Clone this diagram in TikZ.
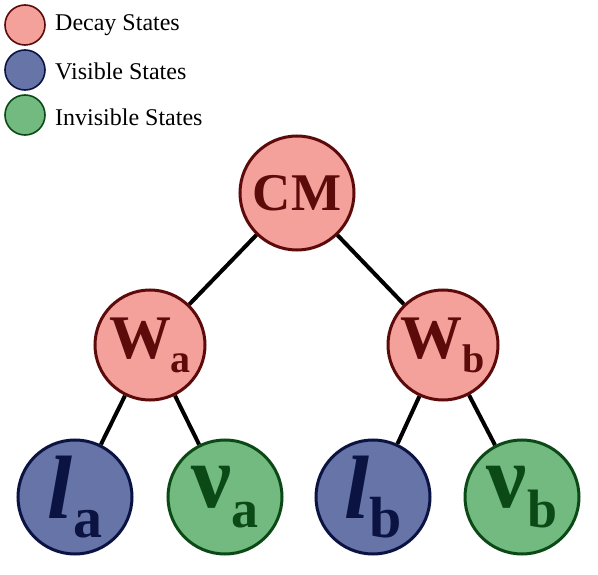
\documentclass[tikz,border=0pt]{standalone}
\usepackage{fontspec}
\setmainfont{Liberation Serif}
\definecolor{decayfill}{HTML}{F4A19B}
\definecolor{decayline}{HTML}{5C0A0A}
\definecolor{visfill}{HTML}{6674A8}
\definecolor{visline}{HTML}{0B1342}
\definecolor{invfill}{HTML}{72BA80}
\definecolor{invline}{HTML}{0B4A17}
\begin{document}
\begin{tikzpicture}[x=1pt,y=-1pt,
  state/.style={circle, line width=3pt, inner sep=0pt, minimum size=112pt},
  decay/.style={state, draw=decayline, fill=decayfill, text=decayline},
  visible/.style={state, draw=visline, fill=visfill, text=visline},
  invisible/.style={state, draw=invline, fill=invfill, text=invline},
  legcirc/.style={circle, line width=1.6pt, inner sep=0pt, minimum size=40pt},
  legtext/.style={anchor=west, inner sep=0pt, font=\fontsize{24}{24}\selectfont},
  link/.style={line width=4pt, black}]
\useasboundingbox (0,0) rectangle (598,575);
% legend
\node[legcirc, draw=decayline, fill=decayfill] (l1) at (25,25) {};
\node[legcirc, draw=visline, fill=visfill] (l2) at (25,70) {};
\node[legcirc, draw=invline, fill=invfill] (l3) at (25,115) {};
\node[legtext] (t1) at (55,25) {Decay States};
\node[legtext] (t2) at (55,71) {Visible States};
\node[legtext] (t3) at (55,117) {Invisible States};
% tree
\node[decay, minimum size=114pt] (cm) at (297,193) {\fontsize{53}{53}\selectfont\bfseries CM};
\node[decay, minimum size=110pt] (wa) at (150,345) {\bfseries\fontsize{62}{62}\selectfont W\raisebox{-14pt}{\fontsize{40}{40}\selectfont a}};
\node[decay, minimum size=110pt] (wb) at (443,345) {\bfseries\fontsize{62}{62}\selectfont W\raisebox{-14pt}{\fontsize{40}{40}\selectfont b}};
\node[visible, minimum size=114pt] (la) at (75,497) {\bfseries\fontsize{90}{90}\selectfont\itshape l\upshape\raisebox{-19pt}{\fontsize{58}{58}\selectfont a}};
\node[invisible, minimum size=114pt] (na) at (225,497) {\bfseries\fontsize{90}{90}\selectfont ν\raisebox{-20pt}{\fontsize{54}{54}\selectfont a}};
\node[visible, minimum size=114pt] (lb) at (373,497) {\bfseries\fontsize{90}{90}\selectfont\itshape l\upshape\raisebox{-19pt}{\fontsize{58}{58}\selectfont b}};
\node[invisible, minimum size=114pt] (nb) at (522,497) {\bfseries\fontsize{90}{90}\selectfont ν\raisebox{-20pt}{\fontsize{54}{54}\selectfont b}};
\draw[link] (cm) -- (wa);
\draw[link] (cm) -- (wb);
\draw[link] (wa) -- (la);
\draw[link] (wa) -- (na);
\draw[link] (wb) -- (lb);
\draw[link] (wb) -- (nb);
\end{tikzpicture}
\end{document}
